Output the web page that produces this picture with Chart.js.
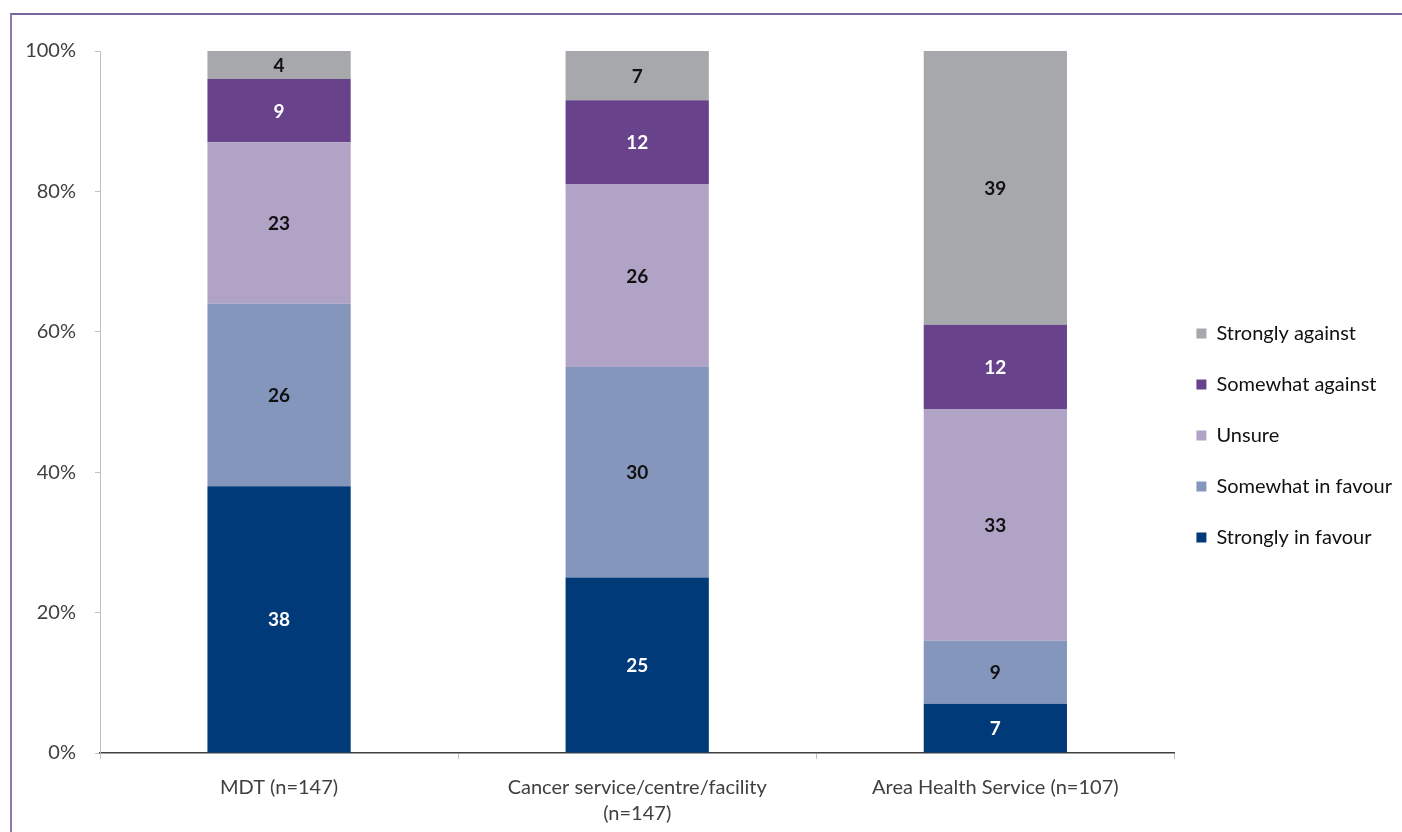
<!DOCTYPE html>
<html>
<head>
<meta charset="utf-8">
<script src="https://cdn.jsdelivr.net/npm/chart.js@4"></script>
<style>
    html, body { margin: 0; padding: 0; background: #fff; overflow: hidden; }
    #frame {
        position: absolute; left: 10px; top: 13px; width: 1500px; height: 900px;
        border-top: 2px solid #7b64a0; border-left: 2px solid #8d78b0;
    }
    #wrap { position: absolute; left: 0; top: 0; width: 1402px; height: 832px; }
</style>
</head>
<body>
<div id="frame"></div>
<div id="wrap"><canvas id="opinionChart"></canvas></div>
<script>
const categories = ['MDT (n=147)', ['Cancer service/centre/facility', '(n=147)'], 'Area Health Service (n=107)'];

const seriesNames = ['Strongly in favour', 'Somewhat in favour', 'Unsure', 'Somewhat against', 'Strongly against'];
const stronglyInFavour = [38, 25, 7];
const somewhatInFavour = [26, 30, 9];
const unsure = [23, 26, 33];
const somewhatAgainst = [9, 12, 12];
const stronglyAgainst = [4, 7, 39];

const seriesColors = ['#003a78', '#8596bd', '#b1a3c5', '#68428a', '#a7a8ab'];
const labelColors = ['#ffffff', '#111111', '#111111', '#ffffff', '#111111'];

const yTicks = [0, 20, 40, 60, 80, 100];

const fontFamily = 'Lato, "Open Sans", sans-serif';

// prints each segment's value in the middle of its bar
const segmentLabels = {
    id: 'segmentLabels',
    afterDatasetsDraw(chart) {
        const ctx = chart.ctx;
        ctx.save();
        ctx.font = `bold 19px ${fontFamily}`;
        ctx.textAlign = 'center';
        ctx.textBaseline = 'middle';
        chart.data.datasets.forEach((ds, di) => {
            const meta = chart.getDatasetMeta(di);
            meta.data.forEach((bar, i) => {
                ctx.fillStyle = labelColors[di];
                ctx.fillText(String(ds.data[i]), bar.x, (bar.y + bar.base) / 2 + 1);
            });
        });
        ctx.restore();
    }
};

const allSeries = [stronglyInFavour, somewhatInFavour, unsure, somewhatAgainst, stronglyAgainst];

const chartData = {
    labels: categories,
    datasets: allSeries.map((values, i) => ({
        // one-line array so the legend row height follows the font lineHeight
        label: [seriesNames[i]],
        data: values,
        backgroundColor: seriesColors[i],
        borderWidth: 0,
        barPercentage: 0.4,
        categoryPercentage: 1.0
    }))
};

const chartConfig = {
    type: 'bar',
    data: chartData,
    options: {
        responsive: true,
        maintainAspectRatio: false,
        animation: false,
        layout: {
            padding: { left: 27, top: 51, right: 0, bottom: 3 }
        },
        plugins: {
            legend: {
                position: 'right',
                reverse: true,
                labels: {
                    boxWidth: 10,
                    boxHeight: 10,
                    padding: 22,
                    color: '#111111',
                    font: { family: fontFamily, size: 20, lineHeight: 29 / 20 }
                }
            },
            tooltip: { enabled: false }
        },
        scales: {
            x: {
                stacked: true,
                afterFit: (scale) => { scale.height = 76; },
                border: { color: '#404040', width: 1.5 },
                grid: {
                    drawOnChartArea: false,
                    offset: true,
                    tickLength: 6,
                    color: '#bfbfbf'
                },
                ticks: {
                    padding: 16,
                    maxRotation: 0,
                    color: '#404040',
                    font: { family: fontFamily, size: 20, lineHeight: 26 / 20 }
                }
            },
            y: {
                stacked: true,
                min: 0,
                max: 100,
                afterFit: (scale) => { scale.width = 73; },
                afterBuildTicks: (scale) => { scale.ticks = yTicks.map(v => ({ value: v })); },
                border: { color: '#bfbfbf', width: 1 },
                grid: {
                    drawOnChartArea: false,
                    tickLength: 5,
                    color: '#bfbfbf'
                },
                ticks: {
                    padding: 19,
                    color: '#404040',
                    font: { family: fontFamily, size: 20 },
                    callback: (v) => v + '%'
                }
            }
        }
    },
    plugins: [segmentLabels]
};

const opinionChart = new Chart(
    document.getElementById('opinionChart'),
    chartConfig
);
</script>
</body>
</html>
